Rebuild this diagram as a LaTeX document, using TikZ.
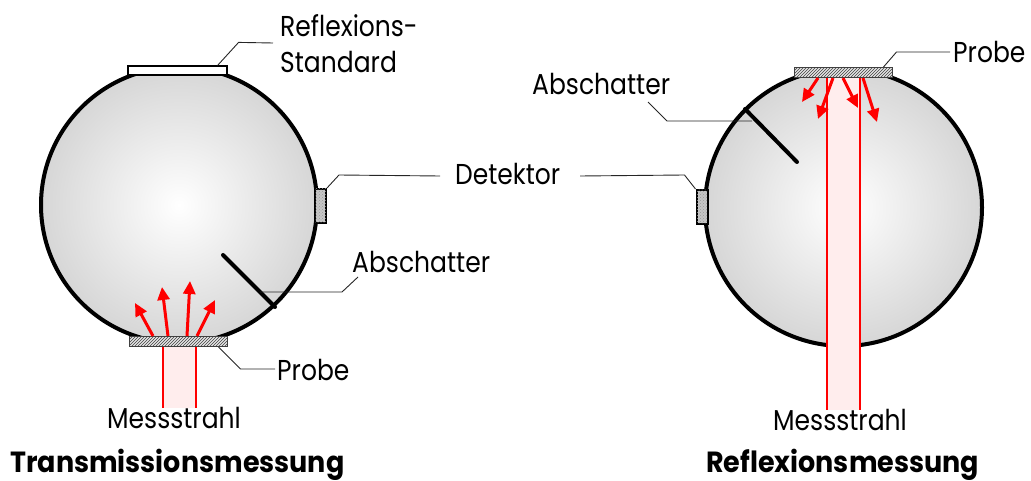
\documentclass[tikz,border=0pt]{standalone}
\usepackage{fontspec}
\setmainfont{Poppins}
\usetikzlibrary{arrows.meta,patterns}
% slightly condensed-looking lettering: stretch glyphs vertically
\newcommand{\tallword}[1]{\scalebox{1}[1.15]{#1}}
\newcommand{\headword}[1]{\scalebox{1}[1.08]{#1}}

\begin{document}
\begin{tikzpicture}[x=1pt,y=-1pt,
  shell/.style={line width=2.3pt, draw=black},
  leader/.style={line width=0.9pt, draw=black!85},
  lbl/.style={anchor=west, inner sep=0pt, font=\fontsize{25}{36}\selectfont, align=left},
  ttl/.style={anchor=base west, inner sep=0pt, font=\bfseries\fontsize{27}{32}\selectfont},
  beam/.style={fill=red!7, draw=none},
  beamedge/.style={draw=red, line width=1.2pt},
  ray/.style={draw=red, line width=3pt, -{Triangle[length=13pt,width=12pt]}},
  sample/.style={draw=black!75, line width=1pt, fill=gray!20,
    postaction={pattern=north east lines, pattern color=black!75},
    inner sep=0pt, minimum width=98pt, minimum height=10pt},
  standard/.style={draw=black, line width=1.2pt, fill=white,
    inner sep=0pt, minimum width=99pt, minimum height=9pt},
  detector/.style={draw=black, line width=2pt, fill=gray!45,
    postaction={pattern=crosshatch dots, pattern color=gray!80},
    inner sep=0pt, minimum width=11pt, minimum height=34pt},
  shade/.style={line width=4pt, line cap=round, draw=black}
]
\useasboundingbox (0,0) rectangle (1031,481);

% ---------------- Transmission sphere ----------------
\shade[inner color=white, outer color=gray!32] (179,205) circle (138);
\draw[shell] (179,205) circle (138);

% measuring beam below the sample
\fill[beam] (163,347) rectangle (196,408);
\coordinate (tb1) at (163,347); \coordinate (tb2) at (163,408);
\coordinate (tb3) at (196,347); \coordinate (tb4) at (196,408);
\draw[beamedge] (tb1) -- (tb2);
\draw[beamedge] (tb3) -- (tb4);

\node[standard] (std) at (177.5,70.5) {};
\node[sample] (tprobe) at (178,341.5) {};
\node[detector] (tdet) at (320.5,206) {};

% baffle
\coordinate (tbA) at (223,255);
\coordinate (tbB) at (275,307);
\draw[shade] (tbA) -- (tbB);

% scattered light from the sample
\coordinate (ts1) at (153,336); \coordinate (tt1) at (135,303);
\coordinate (ts2) at (168,336); \coordinate (tt2) at (162,287);
\coordinate (ts3) at (187,336); \coordinate (tt3) at (190,281);
\coordinate (ts4) at (197,336); \coordinate (tt4) at (215,300);
\draw[ray] (ts1) -- (tt1);
\draw[ray] (ts2) -- (tt2);
\draw[ray] (ts3) -- (tt3);
\draw[ray] (ts4) -- (tt4);

% labels
\node[lbl] (lstd) at (280,44) {\tallword{Reflexions-}\\\tallword{Standard}};
\node[lbl] (ldet) at (455,174) {\tallword{Detektor}};
\node[lbl] (ltabs) at (352,262) {\tallword{Abschatter}};
\node[lbl] (ltprobe) at (277,370) {\tallword{Probe}};
\node[lbl] (ltbeam) at (107,418) {\tallword{Messstrahl}};
\node[ttl] (ttrans) at (10,472) {\headword{Transmissionsmessung}};

% leader lines
\coordinate (e1) at (273,43);
\draw[leader] (std.north east) ++(-10,0) -- ++(21,-23) -- (e1);
\coordinate (e2) at (440,176);
\draw[leader] (tdet.north east) -- ++(12,-13) -- (e2);
\coordinate (e3) at (358,277);
\draw[leader] (260,292) -- (342,292) -- (e3);
\coordinate (e4) at (275,369);
\draw[leader] (tprobe.south east) ++(-9,0) -- ++(22,22) -- (e4);

% ---------------- Reflection sphere ----------------
\shade[inner color=white, outer color=gray!32] (843.5,207.5) circle (138.5);
\draw[shell] (843.5,207.5) circle (138.5);

% measuring beam up to the sample
\fill[beam] (827,78) rectangle (860,410);
\coordinate (rb1) at (827,78); \coordinate (rb2) at (827,410);
\coordinate (rb3) at (860,78); \coordinate (rb4) at (860,410);
\draw[beamedge] (rb1) -- (rb2);
\draw[beamedge] (rb3) -- (rb4);

\node[sample] (rprobe) at (843,72.5) {};
\node[detector] (rdet) at (702,207) {};

% baffle
\coordinate (rbA) at (745,109);
\coordinate (rbB) at (797,162);
\draw[shade] (rbA) -- (rbB);

% reflected light
\coordinate (rs1) at (818,78); \coordinate (rt1) at (802,102);
\coordinate (rs2) at (833,78); \coordinate (rt2) at (818,119);
\coordinate (rs3) at (843,78); \coordinate (rt3) at (858,108);
\coordinate (rs4) at (863,78); \coordinate (rt4) at (877,122);
\draw[ray] (rs1) -- (rt1);
\draw[ray] (rs2) -- (rt2);
\draw[ray] (rs3) -- (rt3);
\draw[ray] (rs4) -- (rt4);

% labels
\node[lbl] (lrabs) at (532,84) {\tallword{Abschatter}};
\node[lbl] (lrprobe) at (953,52) {\tallword{Probe}};
\node[lbl] (lrbeam) at (773,420) {\tallword{Messstrahl}};
\node[ttl] (trefl) at (706,472) {\headword{Reflexionsmessung}};

% leader lines
\coordinate (e5) at (950,52);
\draw[leader] (rprobe.north east) ++(-9,0) -- ++(13,-15) -- (e5);
\coordinate (e6) at (648,102);
\draw[leader] (752,121) -- (667,121) -- (e6);
\coordinate (e7) at (580,176);
\draw[leader] (rdet.north west) -- ++(-11,-14) -- (e7);

\end{tikzpicture}
\end{document}
